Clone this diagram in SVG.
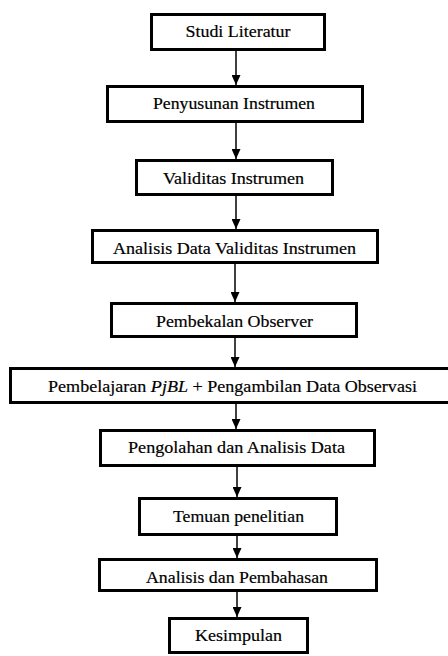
<svg xmlns="http://www.w3.org/2000/svg" width="448" height="656" viewBox="0 0 448 656">
<style>
.box{fill:#fff;stroke:#000;stroke-width:3}
.lbl{font-family:"Liberation Serif","Times New Roman",serif;font-size:17.5px;fill:#000;text-anchor:middle;stroke:#000;stroke-width:0.2}
.con{stroke:#000;stroke-width:1.5;fill:none;marker-end:url(#arr)}
</style>
<defs>
<marker id="arr" markerUnits="userSpaceOnUse" markerWidth="10" markerHeight="9" refX="10" refY="4.5" orient="auto">
<path d="M0,0 L10,4.5 L0,9 z" fill="#000"/>
</marker>
</defs>
<rect width="448" height="656" fill="#fff"/>
<g id="connectors">
<line class="con" x1="236" y1="51" x2="236" y2="85"/>
<line class="con" x1="236" y1="123" x2="236" y2="159"/>
<line class="con" x1="236" y1="196" x2="236" y2="229"/>
<line class="con" x1="235" y1="264" x2="235" y2="302"/>
<line class="con" x1="235" y1="338" x2="235" y2="367"/>
<line class="con" x1="236" y1="404" x2="236" y2="429"/>
<line class="con" x1="237" y1="467" x2="237" y2="497"/>
<line class="con" x1="237" y1="536" x2="237" y2="558"/>
<line class="con" x1="237" y1="592" x2="237" y2="617"/>
</g>
<g id="n1"><rect class="box" x="151.5" y="14.5" width="173" height="35"/><text class="lbl" x="238" y="37" textLength="105" lengthAdjust="spacingAndGlyphs">Studi Literatur</text></g>
<g id="n2"><rect class="box" x="107.5" y="86.5" width="255" height="35"/><text class="lbl" x="234" y="109" textLength="162" lengthAdjust="spacingAndGlyphs">Penyusunan Instrumen</text></g>
<g id="n3"><rect class="box" x="136.5" y="160.5" width="196" height="34"/><text class="lbl" x="233.5" y="184" textLength="141" lengthAdjust="spacingAndGlyphs">Validitas Instrumen</text></g>
<g id="n4"><rect class="box" x="92.5" y="230.5" width="285" height="32"/><text class="lbl" x="234.5" y="254" textLength="243" lengthAdjust="spacingAndGlyphs">Analisis Data Validitas Instrumen</text></g>
<g id="n5"><rect class="box" x="111.5" y="303.5" width="245" height="33"/><text class="lbl" x="234.5" y="327" textLength="157" lengthAdjust="spacingAndGlyphs">Pembekalan Observer</text></g>
<g id="n6"><rect class="box" x="10.5" y="368.5" width="450" height="34"/><text class="lbl" x="232.5" y="392" textLength="369" lengthAdjust="spacingAndGlyphs">Pembelajaran <tspan font-style="italic">PjBL</tspan> + Pengambilan Data Observasi</text></g>
<g id="n7"><rect class="box" x="100.5" y="430.5" width="274" height="35"/><text class="lbl" x="236.5" y="453" textLength="217" lengthAdjust="spacingAndGlyphs">Pengolahan dan Analisis Data</text></g>
<g id="n8"><rect class="box" x="139.5" y="498.5" width="197" height="36"/><text class="lbl" x="238.5" y="522" textLength="131" lengthAdjust="spacingAndGlyphs">Temuan penelitian</text></g>
<g id="n9"><rect class="box" x="99.5" y="559.5" width="277" height="31"/><text class="lbl" x="237" y="583" textLength="182" lengthAdjust="spacingAndGlyphs">Analisis dan Pembahasan</text></g>
<g id="n10"><rect class="box" x="169.5" y="618.5" width="138" height="34"/><text class="lbl" x="238.5" y="641" textLength="87" lengthAdjust="spacingAndGlyphs">Kesimpulan</text></g>
</svg>
